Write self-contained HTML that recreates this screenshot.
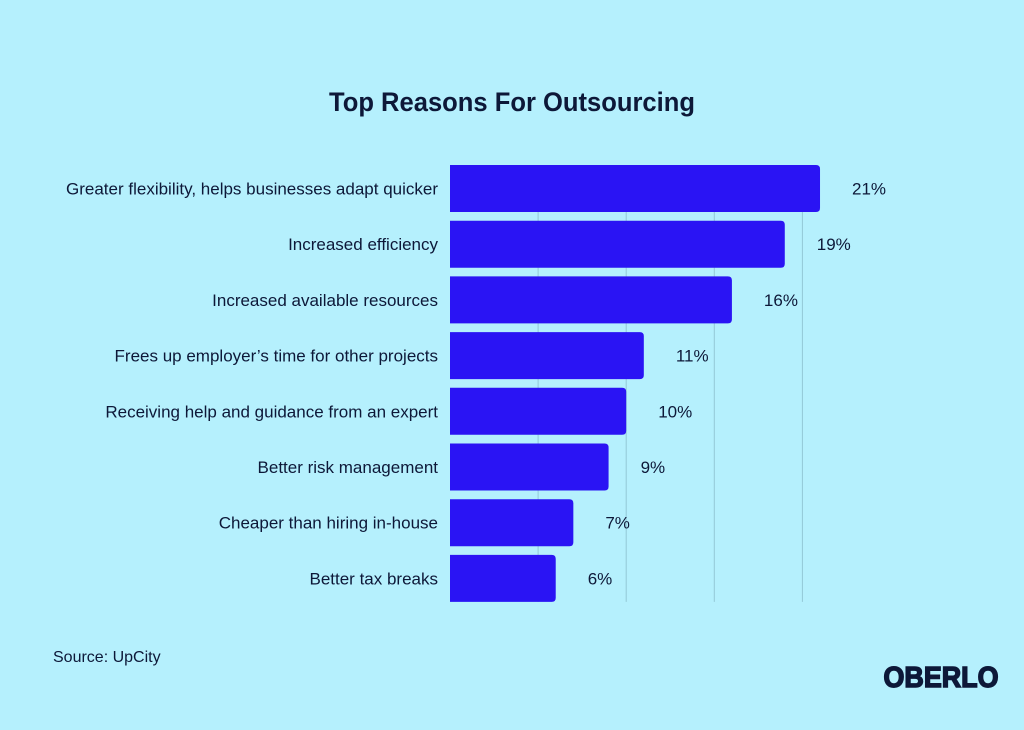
<!DOCTYPE html>
<html><head><meta charset="utf-8"><style>
html,body{margin:0;padding:0;background:#b5f0fd;}
svg{display:block;font-family:"Liberation Sans",sans-serif;}
</style></head><body>
<svg id="chart" width="1024" height="730" viewBox="0 0 1024 730">
<rect width="1024" height="730" fill="#b5f0fd"/>
<text x="512" y="111" text-anchor="middle" font-size="27" font-weight="bold" fill="#0d1838" textLength="366" lengthAdjust="spacingAndGlyphs">Top Reasons For Outsourcing</text>
<g id="grid"></g><g id="bars"></g><g id="labels"></g>
<text x="53" y="662" font-size="16" fill="#0d1838">Source: UpCity</text>
<text x="941" y="687" text-anchor="middle" font-size="29" font-weight="900" fill="#0d1838" stroke="#0d1838" stroke-width="1.5" textLength="115" lengthAdjust="spacingAndGlyphs">OBERLO</text>
</svg>
<script>
const categories=["Greater flexibility, helps businesses adapt quicker","Increased efficiency","Increased available resources","Frees up employer’s time for other projects","Receiving help and guidance from an expert","Better risk management","Cheaper than hiring in-house","Better tax breaks"];
const values=[21,19,16,11,10,9,7,6];
const gridTicks=[5,10,15,20];
const NS="http://www.w3.org/2000/svg";
const x0=450,pxPer=17.62,top0=165,pitch=55.7,bh=47;
const xs=v=>x0+v*pxPer;
const ys=i=>top0+i*pitch;
function mk(t,a,p){const e=document.createElementNS(NS,t);for(const k in a)e.setAttribute(k,a[k]);document.getElementById(p).appendChild(e);return e;}
gridTicks.forEach(t=>{
 const l=mk("line",{x1:xs(t),x2:xs(t),y1:ys(0),y2:ys(values.length-1)+bh,stroke:"#93c8d6","stroke-width":1},"grid");
 
 
});
values.forEach((v,i)=>{
 const w=v*pxPer,y=ys(i),r=4;
 const p=mk("path",{d:`M${x0},${y}H${x0+w-r}Q${x0+w},${y} ${x0+w},${y+r}V${y+bh-r}Q${x0+w},${y+bh} ${x0+w-r},${y+bh}H${x0}Z`,fill:"#2a14f4"},"bars");
 
 
 const c=mk("text",{x:438,y:y+bh/2+6,"text-anchor":"end","font-size":17,fill:"#0d1838"},"labels");
 c.textContent=categories[i];
 
 
 const vl=mk("text",{x:xs(v)+32,y:y+bh/2+6,"font-size":17,fill:"#0d1838"},"labels");
 vl.textContent=v+"%";
 
 
});
</script>
</body></html>
